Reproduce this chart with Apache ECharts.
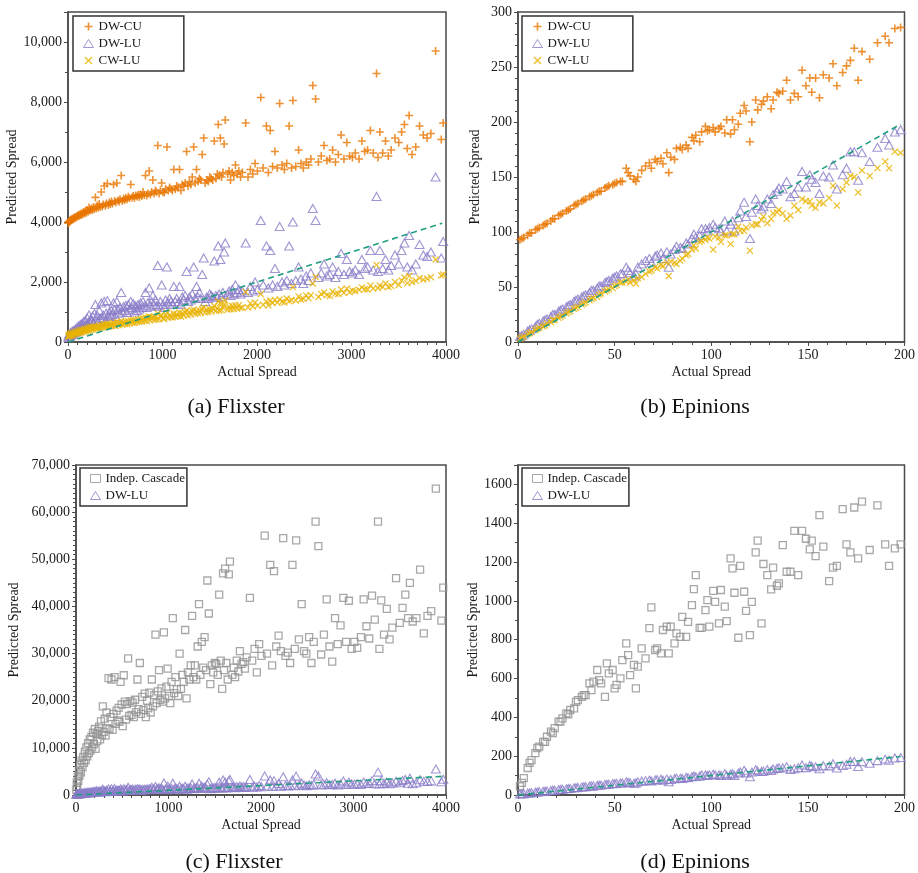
<!DOCTYPE html>
<html><head><meta charset="utf-8">
<script src="https://cdn.jsdelivr.net/npm/echarts@6.0.0/dist/echarts.min.js"></script>
<style>html,body{margin:0;padding:0;background:#fff}#chart{width:918px;height:873px}</style>
</head><body><div id="chart"></div>
<script>
// ---------- Flixster (panels a, c) ----------
const flxActual = [
3, 8, 14, 19, 25, 31, 38, 45, 53, 61,
70, 78, 87, 95, 104, 112, 121, 130, 139, 148,
157, 166, 175, 184, 193, 203, 212, 222, 231, 241,
250, 260, 270, 280, 290, 300, 310, 320, 330, 340,
352, 362, 373, 384, 395, 405, 416, 427, 438, 449,
460, 471, 482, 493, 505, 516, 528, 540, 551, 563,
575, 588, 600, 612, 625, 638, 651, 664, 677, 690,
703, 716, 729, 742, 755, 768, 781, 794, 807, 820,
833, 846, 859, 872, 885, 898, 911, 924, 937, 950,
963, 977, 991, 1005, 1019, 1033, 1047, 1061, 1075, 1090,
1105, 1120, 1135, 1150, 1165, 1180, 1195, 1210, 1225, 1240,
1255, 1270, 1285, 1300, 1315, 1330, 1345, 1360, 1375, 1390,
1405, 1420, 1436, 1452, 1468, 1484, 1500, 1516, 1532, 1548,
1565, 1580, 1590, 1600, 1612, 1625, 1640, 1652, 1664, 1690,
1705, 1720, 1738, 1755, 1772, 1790, 1808, 1826, 1845, 1880,
1905, 1930, 1955, 1980, 2005, 2040, 2065, 2100, 2120, 2140,
2165, 2190, 2215, 2240, 2265, 2290, 2315, 2340, 2365, 2380,
2410, 2440, 2465, 2490, 2520, 2545, 2570, 2590, 2620, 2650,
2680, 2710, 2740, 2770, 2800, 2830, 2860, 2890, 2920, 2950,
2980, 3010, 3040, 3080, 3110, 3140, 3170, 3200, 3230, 3265,
3280, 3300, 3330, 3360, 3390, 3420, 3460, 3500, 3530, 3560,
3590, 3610, 3640, 3680, 3720, 3760, 3800, 3840, 3890, 3950,
3970];
const flxDWCU = [
3960, 4010, 3990, 4050, 4030, 4080, 4060, 4110, 4090, 4140,
4120, 4170, 4150, 4200, 4180, 4240, 4210, 4270, 4230, 4300,
4260, 4330, 4290, 4360, 4310, 4400, 4340, 4480, 4380, 4420,
4450, 4400, 4500, 4430, 4820, 4460, 4550, 4480, 4600, 4500,
5000, 4520, 4580, 5200, 4540, 4620, 5280, 4570, 4650, 4600,
4680, 4620, 5250, 4700, 4650, 5300, 4720, 4680, 4760, 5550,
4700, 4780, 4730, 4800, 4760, 4840, 4790, 5250, 4820, 4870,
4800, 4880, 4850, 4900, 4830, 4920, 4870, 5000, 4900, 5550,
4880, 4950, 5700, 4920, 5000, 5400, 4950, 5050, 5000, 6550,
4950, 5050, 5300, 5000, 4980, 5100, 6500, 5050, 5150, 5100,
5050, 5750, 5100, 5200, 5150, 5750, 5050, 5250, 5200, 5300,
6350, 5200, 5350, 5250, 5500, 6500, 5300, 5750, 5350, 5450,
5400, 6250, 6800, 5300, 5400, 5350, 5500, 5450, 5400, 6700,
5450, 5600, 7250, 5550, 6800, 5500, 5650, 6600, 7400, 5600,
5700, 5400, 5650, 5550, 5900, 5600, 5700, 5500, 5650, 7300,
5500, 5750, 5600, 5950, 5700, 8150, 5800, 7200, 5650, 7050,
5850, 6350, 5800, 7950, 5900, 5750, 5950, 7200, 5800, 8050,
5850, 6400, 5950, 5800, 6000, 5900, 6100, 8550, 8100, 6000,
6200, 6550, 6050, 6100, 6400, 6000, 6250, 6900, 6100, 6650,
6200, 6150, 6300, 6100, 6700, 6350, 6400, 7050, 6300, 8950,
6150, 7000, 6300, 6700, 6200, 6400, 6800, 6650, 7000, 7250,
6450, 7550, 6250, 6500, 7200, 6900, 6800, 6950, 9700, 6750,
7300];
const flxDWLU = [
150, 230, 180, 280, 210, 320, 250, 360, 270, 390,
300, 430, 340, 480, 380, 540, 420, 580, 460, 620,
500, 680, 540, 720, 590, 800, 620, 900, 660, 760,
700, 860, 620, 950, 1250, 740, 880, 690, 1050, 800,
1300, 780, 900, 1350, 720, 960, 1380, 850, 1000, 880,
1050, 920, 1300, 1080, 850, 1350, 1100, 960, 1150, 1650,
1000, 1180, 1050, 1220, 980, 1250, 1100, 1350, 1150, 1280,
1000, 1200, 1050, 1250, 1100, 1300, 1150, 1350, 1200, 1650,
1150, 1300, 1800, 1200, 1350, 1550, 1250, 1400, 1200, 2550,
1200, 1350, 1900, 1250, 1150, 1400, 2500, 1300, 1450, 1350,
1250, 1850, 1350, 1450, 1300, 1850, 1250, 1500, 1400, 1550,
2350, 1350, 1500, 1400, 1600, 2500, 1450, 1850, 1500, 1650,
1450, 2250, 2800, 1350, 1500, 1450, 1600, 1550, 1500, 2700,
1550, 1500, 3200, 1600, 2750, 1500, 1650, 3000, 3300, 1600,
1700, 1550, 1750, 1600, 1900, 1650, 1750, 1600, 1700, 3300,
1650, 1850, 1700, 2000, 1750, 4050, 1900, 3200, 1800, 3050,
1900, 2450, 1850, 3850, 2000, 1900, 2050, 3200, 1950, 4000,
2050, 2500, 2100, 1950, 2200, 2050, 2300, 4450, 4050, 2150,
2300, 2600, 2200, 2250, 2500, 2150, 2350, 2950, 2250, 2750,
2350, 2300, 2400, 2250, 2750, 2450, 2500, 3050, 2400, 4850,
2350, 3050, 2450, 2750, 2400, 2550, 2900, 2600, 3050, 3300,
2500, 3550, 2400, 2600, 3250, 2900, 2850, 3000, 5500, 2800,
3350];
const flxCWLU = [
180, 230, 190, 260, 210, 280, 220, 300, 240, 310,
260, 330, 280, 350, 290, 370, 300, 390, 320, 400,
330, 420, 350, 440, 360, 460, 380, 480, 390, 490,
410, 500, 420, 520, 480, 460, 520, 450, 540, 470,
560, 480, 540, 600, 490, 560, 610, 510, 580, 530,
600, 540, 640, 580, 530, 660, 600, 560, 630, 700,
580, 660, 600, 680, 590, 700, 620, 720, 640, 730,
630, 730, 660, 750, 670, 770, 690, 790, 700, 820,
700, 800, 850, 720, 820, 840, 740, 830, 750, 950,
760, 870, 900, 790, 770, 880, 980, 810, 900, 830,
820, 950, 840, 930, 860, 980, 850, 960, 880, 990,
1050, 890, 1000, 910, 1030, 1080, 940, 1040, 960, 1050,
970, 1100, 1150, 990, 1080, 1000, 1100, 1020, 1110, 1200,
1040, 1130, 1350, 1050, 1300, 1060, 1150, 1250, 1380, 1080,
1180, 1090, 1200, 1100, 1220, 1120, 1230, 1130, 1150, 1670,
1150, 1290, 1180, 1320, 1210, 1600, 1240, 1350, 1220, 1380,
1300, 1400, 1310, 1420, 1340, 1320, 1450, 1360, 1400, 1830,
1380, 1520, 1410, 1440, 1550, 1460, 1560, 1950, 2170, 1500,
1600, 1650, 1560, 1530, 1680, 1610, 1600, 1750, 1640, 1780,
1660, 1720, 1700, 1740, 1820, 1760, 1750, 1880, 1780, 2570,
1800, 1880, 1840, 1950, 1830, 1870, 2000, 1900, 2050, 2150,
1960, 2200, 2000, 2040, 2130, 2080, 2110, 2160, 2750, 2220,
2250];
const flxIC = [
1100, 2600, 1800, 3900, 3000, 5200, 4100, 6400, 4800, 7300,
5900, 8100, 6800, 9200, 7400, 10100, 8200, 11000, 8900, 11800,
9400, 12300, 10100, 13200, 10800, 14000, 9800, 12900, 11500, 13600,
14500, 11800, 15600, 12700, 18800, 13400, 16200, 12600, 17500, 14200,
24800, 14000, 16500, 24500, 13800, 17200, 25000, 15100, 17900, 15800,
18500, 15500, 24000, 19200, 14600, 25400, 19800, 16000, 19300, 29000,
16800, 19900, 17000, 19600, 16500, 20200, 17600, 24500, 18200, 28000,
17200, 20800, 18000, 21500, 16500, 20000, 18400, 21700, 17500, 24500,
18800, 21200, 34000, 19500, 22000, 26500, 20200, 22600, 19800, 34500,
20500, 23000, 26800, 21000, 19500, 24000, 37500, 21600, 25000, 22400,
21000, 30000, 22500, 25500, 24000, 35000, 20500, 26000, 24500, 27500,
38000, 25000, 27500, 24500, 31500, 40500, 25500, 32500, 27000, 33500,
26500, 45500, 38500, 23500, 27500, 26000, 28000, 27800, 25500, 42500,
28500, 22500, 47000, 26500, 48000, 28000, 24500, 46800, 49500, 25500,
27000, 25000, 28500, 26200, 30500, 27800, 28200, 26800, 29200, 41800,
28500, 31000, 26000, 32000, 29500, 55000, 30000, 48800, 27500, 47500,
31500, 33800, 30500, 54500, 29500, 30200, 28000, 48800, 31000, 54000,
33000, 40500, 30500, 30000, 33500, 28000, 32500, 58000, 52800, 29800,
34000, 41500, 31500, 28300, 37500, 32000, 36000, 41800, 32500, 41200,
31000, 32500, 31200, 33500, 41500, 35800, 33200, 42300, 37200, 58000,
31000, 41300, 34000, 39500, 33000, 35500, 46000, 36500, 39700, 42500,
37500, 45000, 36800, 37500, 47800, 34300, 38000, 39000, 65000, 37000,
44000];

// ---------- Epinions (panels b, d) ----------
const epiActual = [
1, 2, 3, 5, 6, 7, 9, 10, 11, 13,
14, 15, 17, 18, 19, 21, 22, 23, 25, 26,
27, 29, 30, 31, 33, 34, 35, 37, 38, 39,
41, 42, 43, 45, 46, 47, 49, 50, 51, 53,
54,
56, 57, 58, 60, 61, 62, 64, 66, 68, 69,
71, 72, 74, 75, 77, 78, 79, 81, 82, 84,
85, 87, 88, 90, 91, 92, 94, 95, 97, 98,
99, 101, 102, 104, 105, 107, 108, 110, 111, 112,
114, 115, 117, 118, 120, 121, 123, 124, 126, 127,
129, 131, 132, 134, 135, 137, 139, 141, 143, 145,
147, 149, 151, 152, 154, 156, 158, 161, 163, 165,
168, 170, 172, 174, 176, 178, 182, 186, 190, 192,
195, 198];
const epiDWCU = [
93, 94, 95, 97, 99, 99, 102, 103, 104, 106,
107, 108, 110, 112, 112, 115, 116, 117, 119, 120,
121, 124, 125, 126, 128, 129, 130, 132, 133, 134,
136, 137, 137, 140, 141, 142, 143, 144, 145, 146,
146,
158, 154, 151, 148, 146, 150, 156, 160, 163, 158,
166, 164, 167, 162, 172, 154, 168, 166, 176, 177,
175, 179, 176, 186, 183, 188, 182, 191, 196, 192,
193, 195, 191, 194, 196, 190, 202, 189, 202, 193,
198, 208, 215, 210, 182, 200, 220, 211, 216, 219,
223, 212, 220, 227, 226, 228, 238, 220, 226, 223,
247, 233, 240, 227, 240, 222, 243, 240, 253, 233,
245, 251, 256, 267, 238, 264, 257, 272, 278, 272,
285, 286];
const epiDWLU = [
5, 6, 7, 10, 11, 12, 14, 16, 17, 19,
20, 21, 23, 25, 25, 28, 29, 30, 32, 33,
34, 37, 38, 39, 41, 42, 43, 45, 47, 47,
49, 51, 51, 54, 55, 56, 58, 59, 60, 62,
62,
68, 65, 63, 60, 62, 68, 71, 74, 76, 72,
78, 79, 81, 76, 82, 68, 80, 84, 87, 86,
85, 90, 89, 94, 98, 95, 97, 103, 103, 101,
104, 107, 104, 103, 101, 110, 101, 107, 110, 101,
113, 119, 127, 114, 94, 118, 130, 124, 121, 123,
130, 126, 134, 137, 140, 139, 146, 132, 135, 141,
155, 141, 152, 148, 145, 135, 151, 150, 161, 139,
152, 158, 173, 173, 147, 172, 164, 177, 185, 179,
191, 193];
const epiCWLU = [
3, 4, 5, 7, 8, 9, 11, 12, 13, 14,
15, 17, 18, 20, 20, 22, 23, 24, 26, 27,
28, 30, 31, 32, 34, 35, 36, 38, 39, 40,
41, 43, 44, 46, 47, 48, 49, 51, 52, 54,
54,
55, 57, 54, 56, 53, 58, 59, 62, 64, 65,
68, 67, 70, 69, 72, 60, 73, 72, 71, 74,
76, 79, 80, 84, 88, 85, 91, 92, 93, 95,
94, 84, 96, 95, 91, 97, 97, 89, 98, 98,
105, 101, 101, 104, 83, 106, 107, 107, 111, 114,
108, 112, 117, 118, 120, 117, 112, 115, 124, 120,
130, 128, 128, 124, 122, 127, 126, 131, 142, 124,
139, 145, 151, 150, 136, 156, 151, 158, 164, 158,
173, 172];
const epiIC = [
45, 62, 87, 139, 165, 180, 216, 242, 249, 274,
274, 300, 326, 319, 345, 378, 378, 395, 421, 416,
438, 446, 480, 489, 506, 515, 515, 575, 540, 584,
644, 592, 575, 506, 678, 627, 644, 549, 567, 601,
695,
781, 721, 618, 670, 549, 661, 755, 704, 860, 967,
747, 755, 730, 850, 867, 730, 867, 781, 833, 815,
918, 815, 892, 978, 1061, 1133, 861, 861, 952, 1004,
867, 1052, 995, 884, 1056, 970, 896, 1219, 1167, 1042,
810, 1180, 1047, 949, 824, 995, 1250, 1310, 884, 1190,
1133, 1059, 1171, 1078, 1090, 1287, 1150, 1150, 1361, 1133,
1361, 1320, 1265, 1310, 1231, 1442, 1279, 1102, 1171, 1180,
1473, 1291, 1250, 1481, 1219, 1511, 1262, 1492, 1291, 1180,
1270, 1291];

// reference y = x lines (endpoints)
const flxDiag = [0, 3960];
const epiDiag = [0, 198];

// text
const captions = ['(a) Flixster', '(b) Epinions', '(c) Flixster', '(d) Epinions'];
const xTitle = 'Actual Spread';
const yTitle = 'Predicted Spread';

// ---------- styling ----------
const FONT = '"Liberation Serif", "Times New Roman", serif';
const ORANGE = '#e87500';
const PURPLE = '#8a7cc8';
const YELLOW = '#e9b300';
const GRAY = '#929292';
const TEAL = '#1f9e80';
const AXIS = '#4a4a4a';
const PLUS = 'path://M4,0H6V4H10V6H6V10H4V6H0V4H4Z';
const CROSS = 'path://M1.3,0L5,3.7L8.7,0L10,1.3L6.3,5L10,8.7L8.7,10L5,6.3L1.3,10L0,8.7L3.7,5L0,1.3Z';

function zip(xs, ys) {
  const n = Math.min(xs.length, ys.length);
  const out = [];
  for (let i = 0; i < n; i++) out.push([xs[i], ys[i]]);
  return out;
}
const commas = v => Number(v).toLocaleString('en-US');
const plain = v => String(v);

const grids = [
  { left: 68, top: 12, width: 378, height: 330 },
  { left: 518, top: 12, width: 388, height: 330 },
  { left: 76, top: 465, width: 370, height: 330 },
  { left: 518, top: 465, width: 388, height: 330 }
].map(g => Object.assign(g, { show: true, borderColor: AXIS, borderWidth: 1.5, backgroundColor: 'transparent' }));

function xAxisCfg(i, max, interval, minorSplit) {
  return {
    gridIndex: i, type: 'value', min: 0, max: max, interval: interval,
    axisLine: { onZero: false, lineStyle: { color: AXIS, width: 1.5 } },
    axisTick: { inside: false, length: 4, lineStyle: { color: AXIS } },
    minorTick: { show: true, splitNumber: minorSplit, length: 3, lineStyle: { color: AXIS } },
    splitLine: { show: false },
    axisLabel: { fontFamily: FONT, fontSize: 14, color: '#1a1a1a', margin: 6, formatter: plain },
    name: xTitle, nameLocation: 'middle', nameGap: 23,
    nameTextStyle: { fontFamily: FONT, fontSize: 14, color: '#1a1a1a' }
  };
}
function yAxisCfg(i, max, interval, minorSplit, fmt, gap) {
  return {
    gridIndex: i, type: 'value', min: 0, max: max, interval: interval,
    axisLine: { onZero: false, lineStyle: { color: AXIS, width: 1.5 } },
    axisTick: { inside: false, length: 4, lineStyle: { color: AXIS } },
    minorTick: { show: true, splitNumber: minorSplit, length: 3, lineStyle: { color: AXIS } },
    splitLine: { show: false },
    axisLabel: { fontFamily: FONT, fontSize: 14, color: '#1a1a1a', margin: 6, formatter: fmt, showMaxLabel: (max % interval === 0) },
    name: yTitle, nameLocation: 'middle', nameGap: gap,
    nameTextStyle: { fontFamily: FONT, fontSize: 14, color: '#1a1a1a' }
  };
}

function cu(i, xs, ys) {
  return { name: 'DW-CU', type: 'scatter', xAxisIndex: i, yAxisIndex: i, data: zip(xs, ys),
    symbol: PLUS, symbolSize: 8, itemStyle: { color: ORANGE, borderWidth: 0 }, z: 2 };
}
function lu(i, xs, ys) {
  return { name: 'DW-LU', type: 'scatter', xAxisIndex: i, yAxisIndex: i, data: zip(xs, ys),
    symbol: 'triangle', symbolSize: [9, 8], itemStyle: { color: 'rgba(255,255,255,0)', borderColor: PURPLE, borderWidth: 1.1 }, z: 3 };
}
function cw(i, xs, ys) {
  return { name: 'CW-LU', type: 'scatter', xAxisIndex: i, yAxisIndex: i, data: zip(xs, ys),
    symbol: CROSS, symbolSize: 7, itemStyle: { color: YELLOW, borderWidth: 0 }, z: 4 };
}
function ic(i, xs, ys) {
  return { name: 'Indep. Cascade', type: 'scatter', xAxisIndex: i, yAxisIndex: i, data: zip(xs, ys),
    symbol: 'rect', symbolSize: 7, itemStyle: { color: 'rgba(255,255,255,0)', borderColor: GRAY, borderWidth: 1.3 }, z: 2 };
}
function diag(i, ends) {
  return { name: 'y=x', type: 'line', xAxisIndex: i, yAxisIndex: i, data: zip(ends, ends),
    symbol: 'none', lineStyle: { type: [6, 4], color: TEAL, width: 1.6 }, z: 6, silent: true };
}

function legendCfg(left, top, names, padRight) {
  return {
    left: left, top: top, orient: 'vertical', selectedMode: false,
    data: names.map(n => n === 'DW-LU' || n === 'Indep. Cascade'
      ? { name: n, itemStyle: { borderWidth: 1 } } : { name: n }),
    itemWidth: 10, itemHeight: 8, itemGap: 4,
    padding: [4, padRight, 4, 10],
    borderColor: '#333', borderWidth: 1.5, borderRadius: 0, backgroundColor: '#fff',
    textStyle: { fontFamily: FONT, fontSize: 13, color: '#1a1a1a' }
  };
}

const capPos = [[236, 407], [695, 407], [234, 862], [695, 862]];

const option = {
  animation: false,
  backgroundColor: '#fff',
  grid: grids,
  xAxis: [
    xAxisCfg(0, 4000, 1000, 10),
    xAxisCfg(1, 200, 50, 5),
    xAxisCfg(2, 4000, 1000, 10),
    xAxisCfg(3, 200, 50, 5)
  ],
  yAxis: [
    yAxisCfg(0, 11000, 2000, 2, commas, 46),
    yAxisCfg(1, 300, 50, 5, plain, 36),
    yAxisCfg(2, 70000, 10000, 10, commas, 55),
    yAxisCfg(3, 1700, 200, 2, plain, 36)
  ],
  legend: [
    legendCfg(73, 16, ['DW-CU', 'DW-LU', 'CW-LU'], 42),
    legendCfg(522, 16, ['DW-CU', 'DW-LU', 'CW-LU'], 42),
    legendCfg(80, 468, ['Indep. Cascade', 'DW-LU'], 2),
    legendCfg(522, 468, ['Indep. Cascade', 'DW-LU'], 2)
  ],
  series: [
    cu(0, flxActual, flxDWCU), lu(0, flxActual, flxDWLU), cw(0, flxActual, flxCWLU), diag(0, flxDiag),
    cu(1, epiActual, epiDWCU), lu(1, epiActual, epiDWLU), cw(1, epiActual, epiCWLU), diag(1, epiDiag),
    ic(2, flxActual, flxIC), lu(2, flxActual, flxDWLU), diag(2, flxDiag),
    ic(3, epiActual, epiIC), lu(3, epiActual, epiDWLU), diag(3, epiDiag)
  ],
  graphic: captions.map((t, k) => ({
    type: 'text', x: capPos[k][0], y: capPos[k][1],
    style: { text: t, align: 'center', verticalAlign: 'middle', font: '22px ' + FONT, fill: '#111' }
  }))
};

const chart = echarts.init(document.getElementById('chart'), null, { renderer: 'canvas' });
chart.setOption(option);
</script></body></html>
